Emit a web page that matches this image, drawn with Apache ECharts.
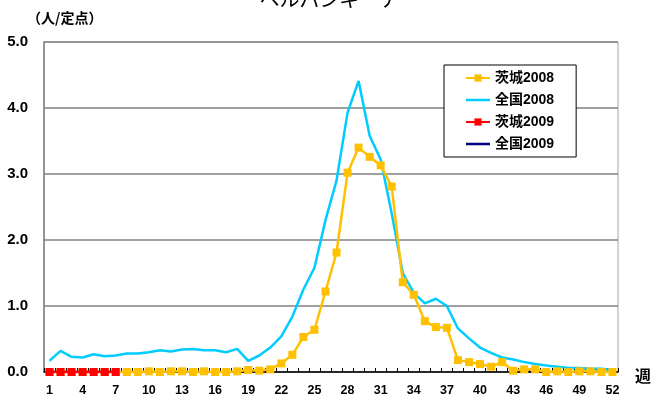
<!DOCTYPE html>
<html>
<head>
<meta charset="utf-8">
<script src="https://cdn.jsdelivr.net/npm/echarts@6/dist/echarts.min.js"></script>
<style>
html,body{margin:0;padding:0;background:#fff;}
#c{width:659px;height:401px;}
</style>
</head>
<body>
<div id="c"></div>
<script>
var weeks = [];
for (var i = 1; i <= 52; i++) weeks.push(String(i));

var ibaraki2008 = [0,0,0,0,0,0,0,
  0,0,0.01,0,0.01,0.01,0,0.01,0,0,0.01,0.03,0.02,0.04,0.13,0.26,0.53,0.64,1.22,1.81,
  3.02,3.40,3.26,3.13,2.81,1.36,1.17,0.77,0.68,0.67,0.18,0.15,0.12,0.08,0.15,0.02,
  0.04,0.04,0,0.01,0,0.01,0.01,0,0];
var zenkoku2008 = [0.17,0.32,0.23,0.22,0.27,0.24,0.25,0.28,0.28,0.30,0.33,0.31,0.34,0.35,
  0.33,0.33,0.30,0.35,0.17,0.25,0.37,0.54,0.84,1.25,1.58,2.30,2.90,3.93,4.41,3.58,3.22,
  2.40,1.50,1.20,1.04,1.11,1.00,0.66,0.51,0.37,0.29,0.22,0.19,0.15,0.12,0.10,0.08,0.06,
  0.06,0.05,0.05,0.03];
var ibaraki2009 = [0,0,0,0,0,0,0];
var zenkoku2009 = [0,0,0,0,0,0,0];

var FONT = '"Liberation Sans", "Noto Sans CJK JP", sans-serif';
var LINE_ICON = 'path://M0,0H24V2.5H0Z';
var chart = echarts.init(document.getElementById('c'));
chart.setOption({
  backgroundColor: '#fff',
  animation: false,
  textStyle: { fontFamily: FONT },
  grid: { left: 44, right: 41, top: 42, bottom: 29, show: true, borderColor: '#a6a6a6', borderWidth: 1, backgroundColor: 'transparent' },
  graphic: [
    { type: 'text', left: 'center', top: -11, style: { text: 'ヘルパンギーナ', font: 'normal 20px "Noto Sans CJK JP", sans-serif', fill: '#000' } },
    { type: 'text', left: 27, top: 11, style: { text: '（人/定点）', font: 'bold 14px "Noto Sans CJK JP", sans-serif', fill: '#000' } },
    { type: 'text', left: 635, top: 368, style: { text: '週', font: 'bold 16px "Noto Sans CJK JP", sans-serif', fill: '#000' } }
  ],
  legend: {
    orient: 'vertical', left: 444, top: 65,
    padding: [6, 22, 6, 21], itemGap: 8, itemWidth: 24, itemHeight: 9,
    borderColor: '#000', borderWidth: 1, backgroundColor: '#fff',
    textStyle: { fontSize: 14, fontWeight: 'bold', color: '#000', fontFamily: FONT },
    data: [
      { name: '茨城2008' },
      { name: '全国2008', icon: LINE_ICON },
      { name: '茨城2009' },
      { name: '全国2009', icon: LINE_ICON }
    ]
  },
  xAxis: {
    type: 'category', data: weeks, boundaryGap: true,
    axisLine: { lineStyle: { color: '#000', width: 1.5 } },
    axisTick: { show: true, inside: true, length: 4, interval: 0, lineStyle: { color: '#000' } },
    axisLabel: { interval: 2, color: '#000', fontWeight: 'bold', fontSize: 12.5, margin: 12, fontFamily: FONT },
    splitLine: { show: false }
  },
  yAxis: {
    type: 'value', min: 0, max: 5, interval: 1,
    axisLine: { show: true, lineStyle: { color: '#808080', width: 1.5 } },
    axisTick: { show: false },
    axisLabel: { color: '#000', fontWeight: 'bold', fontSize: 15, margin: 16, fontFamily: FONT,
      formatter: function (v) { return v.toFixed(1); } },
    splitLine: { show: true, lineStyle: { color: '#808080', width: 1.5 } }
  },
  series: [
    { name: '茨城2008', type: 'line', data: ibaraki2008, symbol: 'rect', symbolSize: 8, showAllSymbol: true,
      itemStyle: { color: '#FFC000' }, lineStyle: { color: '#FFC000', width: 2.5 }, z: 3 },
    { name: '全国2008', type: 'line', data: zenkoku2008, symbol: 'none', showSymbol: false,
      itemStyle: { color: '#00CCFF' }, lineStyle: { color: '#00CCFF', width: 2.5 }, z: 2 },
    { name: '全国2009', type: 'line', data: zenkoku2009, symbol: 'none', showSymbol: false,
      itemStyle: { color: '#000080' }, lineStyle: { color: '#000080', width: 2.5 }, z: 4 },
    { name: '茨城2009', type: 'line', data: ibaraki2009, symbol: 'rect', symbolSize: 8, showAllSymbol: true,
      itemStyle: { color: '#FF0000' }, lineStyle: { color: '#FF0000', width: 2.5 }, z: 5 }
  ]
});
</script>
</body>
</html>
